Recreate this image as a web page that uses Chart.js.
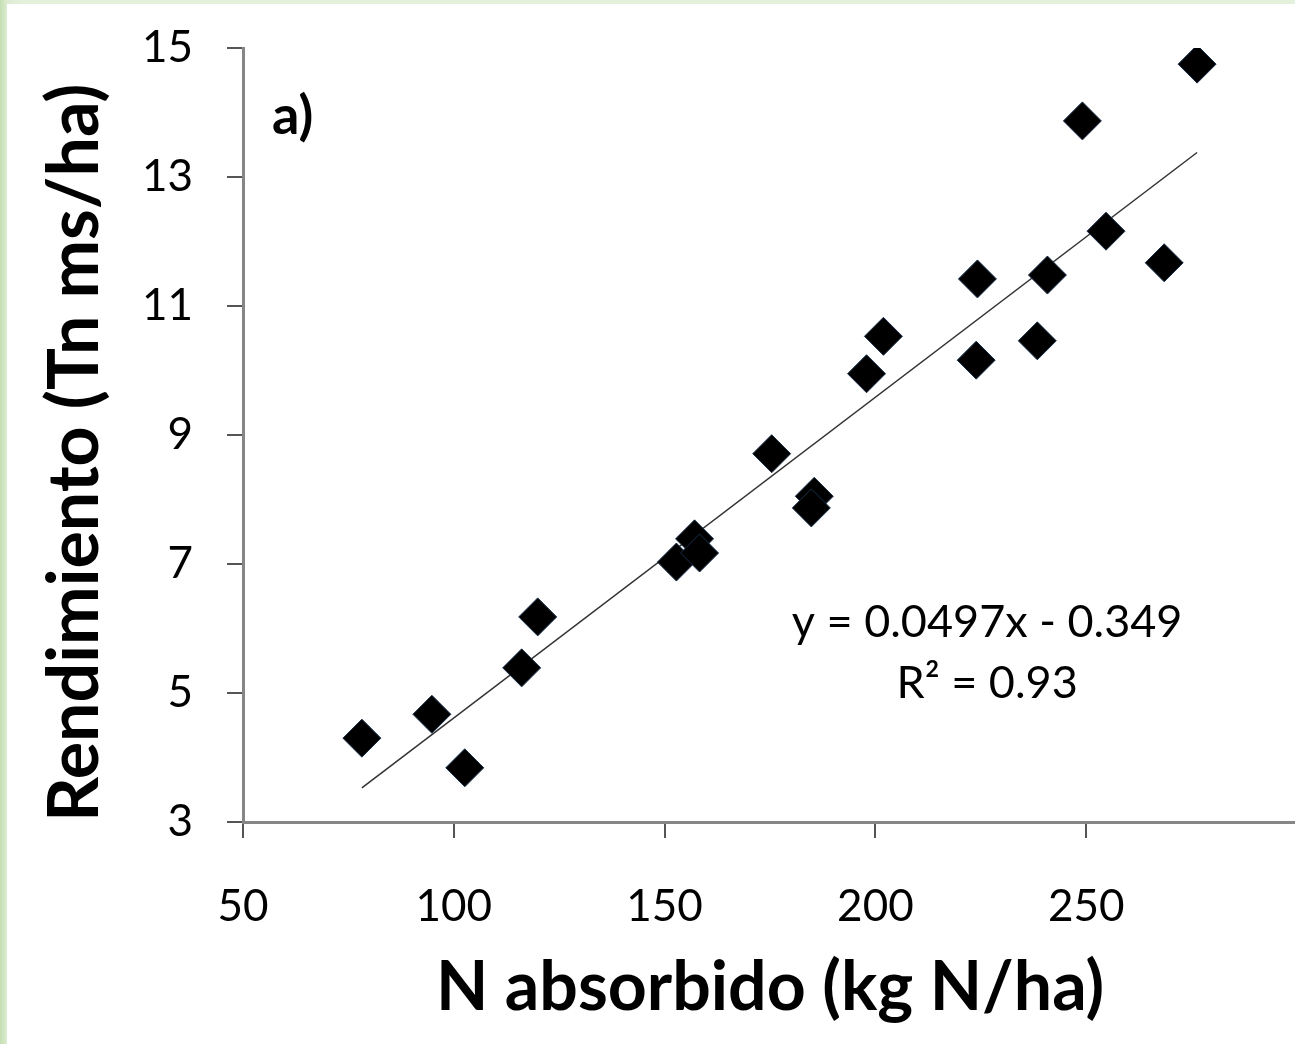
<!DOCTYPE html>
<html>
<head>
<meta charset="utf-8">
<script src="https://cdn.jsdelivr.net/npm/chart.js@4.4.0/dist/chart.umd.min.js"></script>
<style>
  html, body { margin: 0; padding: 0; }
  body {
    width: 1295px; height: 1044px; overflow: hidden; position: relative;
    background: linear-gradient(to right, #c4dfb2 0px, #dcecd2 7px, #e3f0dc 20px);
  }
  #wrap { position: absolute; left: 7px; top: 4px; width: 1288px; height: 1040px; background: #fff; overflow: hidden; }
  #scatterChart { display: block; }
</style>
</head>
<body>
<div id="wrap"><canvas id="scatterChart" width="1310" height="1040"></canvas></div>
<script>
// N absorbido (kg N/ha) vs Rendimiento (Tn ms/ha)
var nAbsorbido = [78.2, 94.8, 102.6, 116.1, 119.9, 152.8, 157.1, 158.3, 175.4, 185.5, 184.8,
                  197.9, 201.9, 223.9, 224.2, 238.4, 240.8, 249.1, 254.7, 268.5, 276.3];
var rendimiento = [4.30, 4.67, 3.84, 5.39, 6.18, 7.03, 7.39, 7.17, 8.71, 8.05, 7.87,
                   9.95, 10.53, 10.16, 11.42, 10.46, 11.48, 13.87, 12.16, 11.67, 14.75];

// trend line end points
var trendX = [78.2, 276.3];
var trendY = [3.53, 13.38];

var xTicks = [50, 100, 150, 200, 250, 300];
var yTicks = [3, 5, 7, 9, 11, 13, 15];

var equationText = 'y = 0.0497x - 0.349';
var r2Text = 'R² = 0.93';
var panelLabel = 'a)';

var points = [];
for (var i = 0; i < nAbsorbido.length; i++) {
  points.push({ x: nAbsorbido[i], y: rendimiento[i] });
}
var trend = [];
for (var j = 0; j < trendX.length; j++) {
  trend.push({ x: trendX[j], y: trendY[j] });
}

var FONT = 'Lato, "Open Sans", sans-serif';

// draws the equation text and the panel label at data positions
var textPlugin = {
  id: 'textPlugin',
  afterDatasetsDraw: function (chart) {
    var ctx = chart.ctx;
    var xs = chart.scales.x, ys = chart.scales.y;
    ctx.save();
    ctx.fillStyle = '#000';
    ctx.textAlign = 'center';
    ctx.textBaseline = 'middle';
    ctx.font = '45px ' + FONT;
    ctx.fillText(equationText, xs.getPixelForValue(226.5), ys.getPixelForValue(6.1));
    ctx.fillText(r2Text, xs.getPixelForValue(226.5), ys.getPixelForValue(5.15));
    ctx.font = 'bold 54px ' + FONT;
    ctx.fillText(panelLabel, xs.getPixelForValue(61.8), ys.getPixelForValue(13.94));
    ctx.restore();
  }
};

var ctx = document.getElementById('scatterChart').getContext('2d');
var chart = new Chart(ctx, {
  type: 'scatter',
  data: {
    datasets: [{
      label: 'Rendimiento',
      data: points,
      pointStyle: 'rectRot',
      pointRadius: 19,
      pointHoverRadius: 19,
      backgroundColor: '#000',
      borderColor: '#1b2f4a',
      borderWidth: 1,
      order: 1
    }, {
      type: 'line',
      label: 'Tendencia',
      data: trend,
      borderColor: '#333',
      borderWidth: 1.5,
      pointRadius: 0,
      fill: false,
      order: 2
    }]
  },
  options: {
    responsive: false,
    animation: false,
    events: [],
    layout: { padding: { top: 44, right: 0, left: 0, bottom: 0 } },
    plugins: { legend: { display: false }, tooltip: { enabled: false } },
    scales: {
      x: {
        type: 'linear',
        min: 50, max: 300,
        afterBuildTicks: function (scale) { scale.ticks = xTicks.map(function (v) { return { value: v }; }); },
        afterFit: function (scale) {
          scale.height = 222;
          scale.paddingLeft = 0;
          scale.paddingRight = 0;
        },
        border: { display: true, color: '#868686', width: 3 },
        grid: { display: true, drawOnChartArea: false, drawTicks: true, tickLength: 16, color: '#555', lineWidth: 2 },
        ticks: {
          padding: 42,
          color: '#000',
          font: { family: FONT, size: 44 },
          maxRotation: 0,
          callback: function (v) { return v === 300 ? '' : v; }
        },
        title: {
          display: true,
          text: 'N absorbido (kg N/ha)',
          color: '#000',
          font: { family: FONT, size: 68, weight: 'bold' },
          padding: { top: 0, bottom: 15 }
        }
      },
      y: {
        type: 'linear',
        min: 3, max: 15,
        afterBuildTicks: function (scale) { scale.ticks = yTicks.map(function (v) { return { value: v }; }); },
        afterFit: function (scale) {
          scale.width = 236;
          scale.paddingTop = 0;
          scale.paddingBottom = 0;
        },
        border: { display: true, color: '#868686', width: 3 },
        grid: { display: true, drawOnChartArea: false, drawTicks: true, tickLength: 16, color: '#555', lineWidth: 2 },
        ticks: {
          padding: 34,
          color: '#000',
          font: { family: FONT, size: 44 }
        },
        title: {
          display: true,
          text: 'Rendimiento (Tn ms/ha)',
          align: 'start',
          color: '#000',
          font: { family: FONT, size: 70, weight: 'bold' },
          padding: { top: 26, bottom: 0 }
        }
      }
    }
  },
  plugins: [textPlugin]
});
</script>
</body>
</html>
